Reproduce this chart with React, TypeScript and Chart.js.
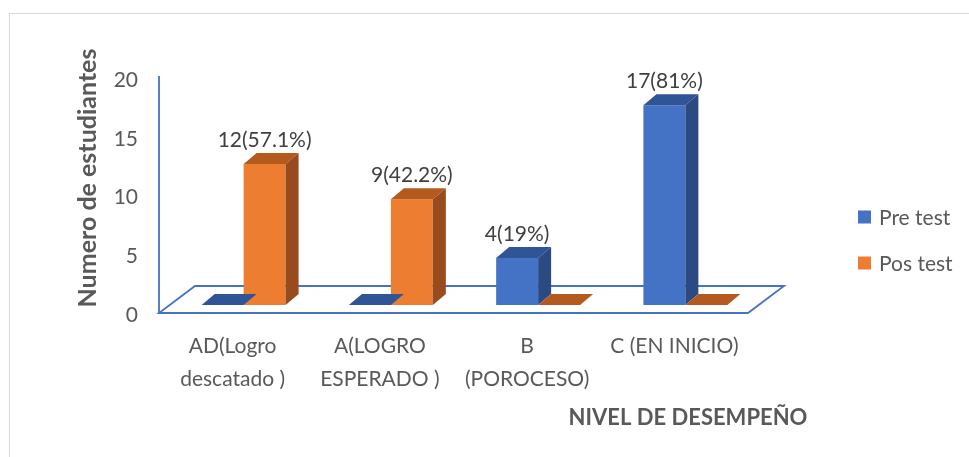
import React, { useEffect, useRef } from "react";
import { Chart, registerables } from "chart.js";

Chart.register(...registerables);

// ---- data ----
const categories: string[][] = [
  ["AD(Logro", "descatado )"],
  ["A(LOGRO", "ESPERADO )"],
  ["B", "(POROCESO)"],
  ["C (EN INICIO)"],
];
const seriesNames = ["Pre test", "Pos test"];
const preTest = [0, 0, 4, 17];
const posTest = [12, 9, 0, 0];
const preLabels = ["", "", "4(19%)", "17(81%)"];
const posLabels = ["12(57.1%)", "9(42.2%)", "", ""];
const yTicks = [0, 5, 10, 15, 20];
const yTitle = "Numero de estudiantes";
const xTitle = "NIVEL DE DESEMPEÑO";

// ---- styles ----
const FONT = "Lato";
const TEXT = "#595959";
const LABEL = "#404040";
const AXIS = "#4472C4";
const frontColors = ["#4472C4", "#ED7D31"];
const topColors = ["#2F5597", "#B55A1F"];
const sideColors = ["#2B4A82", "#984B1C"];
const FRONT = { dx: 11, dy: 8 };
const DEPTH = { dx: 13, dy: 11 };
const FLOOR = { dx: 36, dy: 27 };

const dataLabels = [preLabels, posLabels];

const threeD = {
  id: "threeD",
  beforeDraw(chart: any) {
    const { ctx } = chart;
    ctx.save();
    ctx.fillStyle = "#ffffff";
    ctx.fillRect(0, 0, chart.width, chart.height);
    ctx.strokeStyle = "#d9d9d9";
    ctx.lineWidth = 1;
    ctx.strokeRect(9.5, 13.5, chart.width + 20, chart.height + 20);
    ctx.restore();
  },
  beforeDatasetsDraw(chart: any) {
    const { ctx, chartArea: a, scales } = chart;
    const y0 = scales.y.getPixelForValue(0);
    const yTop = scales.y.getPixelForValue(yTicks[yTicks.length - 1]);
    ctx.save();
    ctx.strokeStyle = AXIS;
    ctx.lineWidth = 1.8;
    ctx.lineJoin = "miter";
    ctx.beginPath();
    ctx.moveTo(a.left, y0);
    ctx.lineTo(a.right, y0);
    ctx.lineTo(a.right + FLOOR.dx, y0 - FLOOR.dy);
    ctx.lineTo(a.left + FLOOR.dx, y0 - FLOOR.dy);
    ctx.closePath();
    ctx.stroke();
    ctx.beginPath();
    ctx.moveTo(a.left, yTop - 2);
    ctx.lineTo(a.left, y0);
    ctx.stroke();
    ctx.restore();
    ctx.save();
    ctx.translate(FRONT.dx, -FRONT.dy);
  },
  afterDatasetsDraw(chart: any) {
    const { ctx } = chart;
    chart.data.datasets.forEach((_ds: any, di: number) => {
      const meta = chart.getDatasetMeta(di);
      meta.data.forEach((bar: any) => {
        const { x, y, base, width } = bar.getProps(["x", "y", "base", "width"], true);
        const l = x - width / 2;
        const r = x + width / 2;
        ctx.fillStyle = topColors[di];
        ctx.beginPath();
        ctx.moveTo(l, y);
        ctx.lineTo(r, y);
        ctx.lineTo(r + DEPTH.dx, y - DEPTH.dy);
        ctx.lineTo(l + DEPTH.dx, y - DEPTH.dy);
        ctx.closePath();
        ctx.fill();
        if (base - y > 0.5) {
          ctx.fillStyle = sideColors[di];
          ctx.beginPath();
          ctx.moveTo(r, y);
          ctx.lineTo(r + DEPTH.dx, y - DEPTH.dy);
          ctx.lineTo(r + DEPTH.dx, base - DEPTH.dy);
          ctx.lineTo(r, base);
          ctx.closePath();
          ctx.fill();
        }
      });
    });
    // data labels
    ctx.font = `21px ${FONT}`;
    ctx.fillStyle = LABEL;
    ctx.textAlign = "center";
    ctx.textBaseline = "middle";
    chart.data.datasets.forEach((_ds: any, di: number) => {
      const meta = chart.getDatasetMeta(di);
      meta.data.forEach((bar: any, i: number) => {
        const t = dataLabels[di][i];
        if (!t) return;
        const { x, y } = bar.getProps(["x", "y"], true);
        ctx.fillText(t, x, y - DEPTH.dy - 13);
      });
    });
    ctx.restore();
  },
  afterDraw(chart: any) {
    const { ctx, chartArea: a, scales } = chart;
    ctx.save();
    // y ticks
    ctx.font = `21px ${FONT}`;
    ctx.fillStyle = TEXT;
    ctx.textAlign = "right";
    ctx.textBaseline = "middle";
    yTicks.forEach((v) => {
      ctx.fillText(String(v), a.left - 21, scales.y.getPixelForValue(v) + 2);
    });
    // x category labels
    ctx.textAlign = "center";
    categories.forEach((lines, i) => {
      const cx = scales.x.getPixelForValue(i);
      lines.forEach((ln, k) => {
        ctx.fillText(ln, cx, a.bottom + 33 + k * 33);
      });
    });
    // x title
    ctx.font = `bold 22px ${FONT}`;
    ctx.fillText(xTitle, 688, 418);
    // y title
    ctx.save();
    ctx.translate(88, 178);
    ctx.rotate(-Math.PI / 2);
    ctx.font = `bold 25px ${FONT}`;
    ctx.fillText(yTitle, 0, 0);
    ctx.restore();
    // legend
    ctx.font = `21px ${FONT}`;
    ctx.textAlign = "left";
    seriesNames.forEach((name, i) => {
      const cy = 217 + i * 46;
      ctx.fillStyle = frontColors[i];
      ctx.fillRect(858, cy - 6.5, 13, 13);
      ctx.fillStyle = TEXT;
      ctx.fillText(name, 879, cy + 1);
    });
    ctx.restore();
  },
};

export default function App() {
  const ref = useRef<HTMLCanvasElement | null>(null);
  useEffect(() => {
    if (!ref.current) return;
    const chart = new Chart(ref.current, {
      type: "bar",
      data: {
        labels: categories.map((c) => c.join(" ")),
        datasets: [
          {
            label: seriesNames[0],
            data: preTest,
            backgroundColor: frontColors[0],
            borderWidth: 0,
            categoryPercentage: 0.57,
            barPercentage: 1,
          },
          {
            label: seriesNames[1],
            data: posTest,
            backgroundColor: frontColors[1],
            borderWidth: 0,
            categoryPercentage: 0.57,
            barPercentage: 1,
          },
        ],
      },
      options: {
        animation: false,
        responsive: false,
        maintainAspectRatio: false,
        layout: { padding: { left: 159, right: 221, top: 78, bottom: 144 } },
        plugins: { legend: { display: false }, tooltip: { enabled: false } },
        scales: {
          x: { display: false, offset: true },
          y: { display: false, min: 0, max: 20 },
        },
      },
      plugins: [threeD],
    });
    return () => chart.destroy();
  }, []);
  return (
    <div style={{ position: "absolute", left: 0, top: 0, width: 969, height: 457, background: "#fff" }}>
      <canvas ref={ref} width={969} height={457} style={{ display: "block" }} />
    </div>
  );
}
